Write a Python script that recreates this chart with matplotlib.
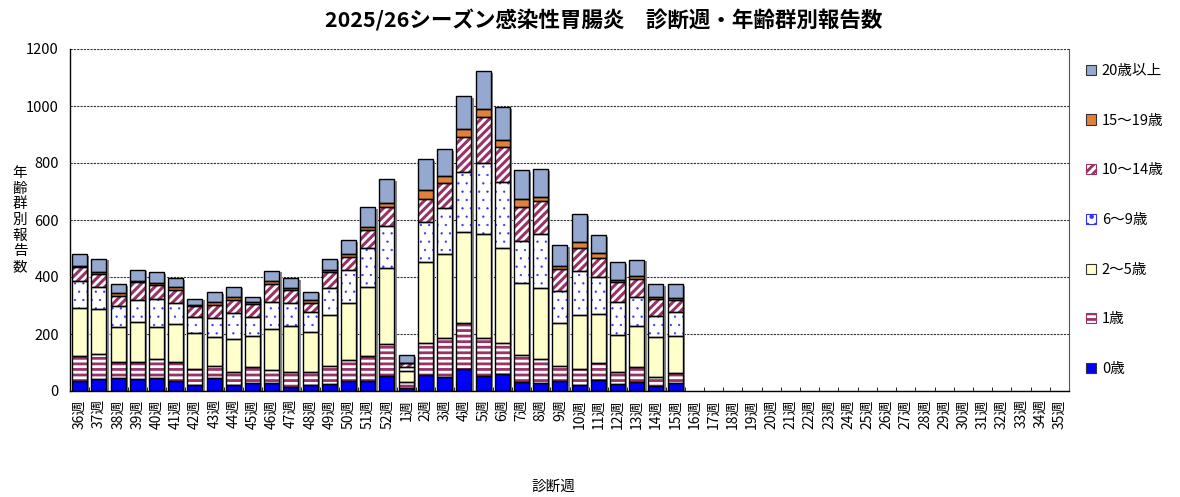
import matplotlib
matplotlib.use("Agg")
import matplotlib.pyplot as plt
from matplotlib.patches import Patch
import numpy as np

plt.rcParams['font.family'] = ['Noto Sans CJK JP', 'DejaVu Sans']
plt.rcParams['hatch.linewidth'] = 2.0

# diagnosis weeks (36週 .. 35週), data only up to 15週
weeks = [str(w) + "週" for w in list(range(36, 53)) + list(range(1, 36))]

# reports by age group, weeks 36..52 then 1..15
age_0 = [36, 41, 46, 41, 46, 36, 21, 46, 21, 29, 29, 15, 21, 25, 36, 36, 53,
         9, 57, 48, 76, 51, 60, 32, 29, 35, 21, 37, 25, 30, 16, 27]
age_1 = [86, 89, 57, 60, 67, 65, 56, 43, 44, 54, 46, 50, 46, 63, 73, 87, 111,
         21, 110, 138, 161, 134, 108, 94, 83, 54, 55, 60, 40, 53, 32, 36]
age_2_5 = [168, 157, 120, 140, 110, 133, 128, 100, 116, 111, 143, 162, 140, 178, 201, 242, 269,
           41, 284, 294, 320, 366, 334, 252, 251, 148, 191, 172, 130, 146, 141, 131]
age_6_9 = [95, 78, 75, 78, 100, 75, 56, 67, 93, 67, 95, 81, 69, 94, 113, 136, 146,
           14, 141, 161, 213, 248, 231, 149, 188, 113, 155, 130, 117, 102, 74, 82]
age_10_14 = [51, 46, 34, 62, 50, 44, 37, 46, 45, 43, 61, 46, 34, 58, 46, 63, 65,
             12, 83, 89, 122, 161, 122, 117, 115, 77, 81, 69, 69, 62, 59, 42]
age_15_19 = [4, 7, 11, 6, 7, 11, 4, 9, 11, 7, 11, 6, 8, 7, 11, 10, 14,
             2, 31, 24, 26, 28, 26, 29, 16, 13, 19, 17, 7, 9, 9, 8]
age_20 = [41, 46, 31, 39, 36, 31, 22, 35, 36, 18, 37, 35, 31, 37, 50, 70, 86,
          28, 108, 94, 117, 134, 114, 102, 97, 71, 98, 62, 63, 59, 43, 48]

series = [age_0, age_1, age_2_5, age_6_9, age_10_14, age_15_19, age_20]
labels = ["0歳", "1歳", "2～5歳", "6～9歳", "10～14歳", "15～19歳", "20歳以上"]
# (face colour, hatch, hatch colour, hatch line width)
styles = [
    ("#0000FF", None, "black", 1.0),
    ("white", "---", "#993366", 2.0),
    ("#FFFFCC", None, "black", 1.0),
    ("white", "..", "#3333FF", 0.4),
    ("white", "////", "#993366", 2.2),
    ("#E0823A", None, "black", 1.0),
    ("#95A9D0", None, "black", 1.0),
]

fig = plt.figure(figsize=(11.8, 4.97), dpi=100)
ax = fig.add_axes([70 / 1180, 1 - 391 / 497, 999 / 1180, 342 / 497])

x = np.arange(len(age_0))
width = 0.78
total = np.sum(np.array(series), axis=0)

# excel-like shadow
ax.bar(x + 0.12, total, width, bottom=-6, color="#8a8a8a", linewidth=0, zorder=1)

bottom = np.zeros(len(x))
handles = []
for vals, lab, (fc, hatch, hc, hlw) in zip(series, labels, styles):
    with plt.rc_context({"hatch.linewidth": hlw}):
        ax.bar(x, vals, width, bottom=bottom, facecolor=fc, edgecolor=hc,
               hatch=hatch, linewidth=0, zorder=2)
        handles.append(Patch(facecolor=fc, edgecolor=hc if hatch else "#333333",
                             hatch=hatch, linewidth=0.8, label=lab))
    ax.bar(x, vals, width, bottom=bottom, facecolor="none", edgecolor="black",
           linewidth=1.0, zorder=3)
    bottom = bottom + np.array(vals)

ax.set_xlim(-0.5, len(weeks) - 0.5)
ax.set_ylim(0, 1200)
ax.set_yticks(range(0, 1201, 200))
ax.yaxis.grid(True, linestyle=(0, (2, 1)), color="#333333", linewidth=0.8)
ax.set_axisbelow(True)

ax.set_xticks(np.arange(len(weeks)))
ax.set_xticklabels(weeks, rotation=90, fontsize=10)
ax.set_xticks(np.arange(len(weeks) + 1) - 0.5, minor=True)
ax.tick_params(axis="x", which="major", length=0, pad=6)
ax.tick_params(axis="x", which="minor", length=3, direction="in", color="black")
ax.tick_params(axis="y", length=0, pad=8, labelsize=10.5)

for s in ["left", "bottom"]:
    ax.spines[s].set_color("black")
    ax.spines[s].set_linewidth(1.0)
ax.spines["right"].set_color("#555555")
ax.spines["top"].set_visible(False)

ax.legend(handles=handles[::-1], loc="upper left", frameon=False,
          bbox_to_anchor=(1080 / 1180, 1 - 58 / 497), bbox_transform=fig.transFigure,
          fontsize=10.5, handlelength=0.7, handleheight=0.7, handletextpad=0.4,
          labelspacing=2.45, borderaxespad=0)

fig.text(604 / 1180, 1 - 20 / 497, "2025/26シーズン感染性胃腸炎　診断週・年齢群別報告数",
         ha="center", va="center", fontsize=15.5, fontweight="bold")
fig.text(20 / 1180, 1 - 220 / 497, "\n".join("年齢群別報告数"),
         ha="center", va="center", fontsize=10.5, linespacing=1.15)
fig.text(553 / 1180, 1 - 487 / 497, "診断週", ha="center", va="center", fontsize=10.5)

fig.savefig("out.png", dpi=100)
